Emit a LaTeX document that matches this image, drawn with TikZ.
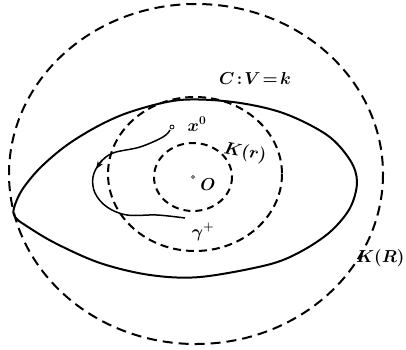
\documentclass[tikz,border=0pt]{standalone}
\usetikzlibrary{decorations.markings,arrows.meta}
\begin{document}
\begin{tikzpicture}[x=1pt,y=-1pt,
  dashcirc/.style={line width=2pt,dash pattern=on 10pt off 6pt},
  solidcurve/.style={line width=2pt},
  lbl/.style={font=\fontsize{17}{19}\selectfont\boldmath},
  endpt/.style={circle,draw,line width=0.8pt,inner sep=0pt,minimum size=4pt,fill=white}]
\useasboundingbox (0,0) rectangle (406,349);
% big circle K(R)
\draw[dashcirc] (196,174) ellipse [x radius=187, y radius=170];
% middle circle
\draw[dashcirc,dash pattern=on 8pt off 5pt] (195,174) ellipse [x radius=87, y radius=77];
% inner circle K(r)
\draw[dashcirc,dash pattern=on 7pt off 5pt] (193,177) ellipse [x radius=39, y radius=34];
% egg curve C
\draw[solidcurve] plot[smooth cycle,tension=0.55] coordinates {
 (14,208) (22,190) (40,168) (67,145) (100,125) (133,111) (180,100) (233,102) (283,113)
 (327,135) (350,160) (357,182) (350,208) (330,232) (300,252) (267,265) (200,277)
 (150,275) (100,263) (55,243) (25,225) (15,217)};
% trajectory gamma+
\node[endpt] (x0) at (172,127) {};
\coordinate (gend) at (185,218);
\draw[line width=1.5pt]
  plot[smooth,tension=0.6] coordinates {(170,130) (163,137) (140,147) (113,153) (100,163) (93,177) (95,193) (107,207) (127,215) (157,215) (185,218)};
\coordinate (ar1) at (102,160);
\coordinate (ar2) at (96,169);
\draw[line width=1.5pt,-{Stealth[length=8pt,width=6pt]}] (ar1) -- (ar2);
% origin
\node[endpt,minimum size=3pt,line width=0.6pt] (orig) at (193,177) {};
% labels
\node[lbl] (lC) at (255,78) {$C\!:\!V\!=\!k$};
\node[lbl] (lx) at (197,124) {$x^{0}$};
\node[lbl,rotate=-10] (lKr) at (245,153) {$K(r)$};
\node[lbl] (lO) at (208,185) {$O$};
\node[lbl] (lg) at (203,232) {$\gamma^{+}$};
\node[lbl,anchor=east] (lKR) at (408,258) {$K(R)$};
\end{tikzpicture}
\end{document}
